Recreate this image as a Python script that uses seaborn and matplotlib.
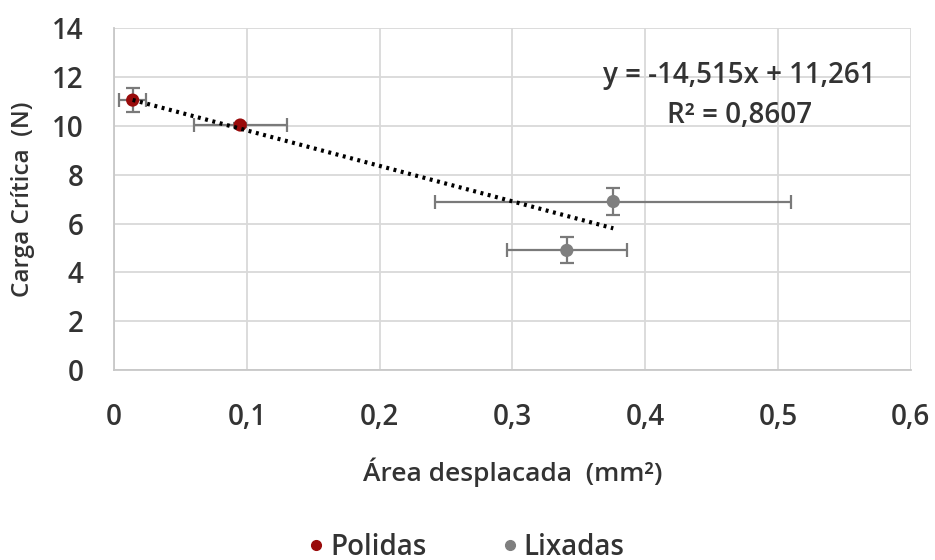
import matplotlib
matplotlib.use("Agg")
import matplotlib.pyplot as plt
from matplotlib.lines import Line2D
import numpy as np
import pandas as pd
import seaborn as sns

# Measured points: displaced area vs. critical load
grupos = ["Polidas", "Polidas", "Lixadas", "Lixadas"]
area = [0.014, 0.095, 0.376, 0.341]
carga = [11.05, 10.03, 6.9, 4.9]
area_err = [0.010, 0.035, 0.134, 0.045]
carga_err = [0.50, 0.10, 0.55, 0.53]

# Linear trend reported for the whole set
incl = -14.515
intercepto = 11.261
r2 = 0.8607

x_ticks = [0, 0.1, 0.2, 0.3, 0.4, 0.5, 0.6]
x_labels = ["0", "0,1", "0,2", "0,3", "0,4", "0,5", "0,6"]
y_ticks = [0, 2, 4, 6, 8, 10, 12, 14]

cores = {"Polidas": "#990b0b", "Lixadas": "#7f7f7f"}
texto = "#333333"
peso = "semibold"

sns.set_theme(style="whitegrid")
plt.rcParams["font.family"] = ["Open Sans", "DejaVu Sans"]
plt.rcParams["font.weight"] = peso
plt.rcParams["axes.labelweight"] = peso

df = pd.DataFrame({"grupo": grupos, "area": area, "carga": carga,
                   "ex": area_err, "ey": carga_err})

fig = plt.figure(figsize=(9.35, 5.6), dpi=100)
ax = fig.add_axes([0.122, 0.339, 0.852, 0.611])

# error bars first so the markers sit on top
ax.errorbar(df["area"], df["carga"], xerr=df["ex"], yerr=df["ey"],
            fmt="none", ecolor="#7a7a7a", elinewidth=1.6, capsize=5,
            capthick=1.6, zorder=2)

sns.scatterplot(data=df, x="area", y="carga", hue="grupo", palette=cores,
                s=90, edgecolor="none", legend=False, ax=ax, zorder=3)

# trend line over the span of the data
xt = np.array([min(area), max(area)])
ax.plot(xt, incl * xt + intercepto, color="black", lw=3.0,
        linestyle=(0, (0.7, 1.1)), dash_capstyle="butt", zorder=4)

ax.text(0.471, 12.07, "y = -14,515x + 11,261", ha="center", va="center",
        fontsize=20, color=texto, fontweight=peso, zorder=5)
ax.text(0.471, 10.44, "R² = 0,8607", ha="center", va="center",
        fontsize=20, color=texto, fontweight=peso, zorder=5)

ax.set_xlim(0, 0.6)
ax.set_ylim(0, 14)
ax.set_xticks(x_ticks)
ax.set_xticklabels(x_labels)
ax.set_yticks(y_ticks)
ax.tick_params(axis="x", labelsize=20, labelcolor=texto, length=0, pad=24)
ax.tick_params(axis="y", labelsize=20, labelcolor=texto, length=0, pad=22)
ax.grid(True, color="#d9d9d9", lw=1.3)
for lado in ["top", "right"]:
    ax.spines[lado].set_visible(False)
for lado in ["left", "bottom"]:
    ax.spines[lado].set_color("#c8c8c8")
    ax.spines[lado].set_linewidth(1.3)

ax.set_xlabel("Área desplacada  (mm²)", fontsize=19, color=texto,
              fontweight=peso, labelpad=18)
ax.set_ylabel("Carga Crítica  (N)", fontsize=17.5, color=texto,
              fontweight=peso, labelpad=12)

handles = [Line2D([], [], marker="o", ls="none", color=cores[g], markersize=7,
                  label=g) for g in ["Polidas", "Lixadas"]]
leg = fig.legend(handles=handles, loc="center", bbox_to_anchor=(0.497, 0.023),
                 ncol=2, frameon=False, fontsize=20, handletextpad=0.1,
                 columnspacing=2.6, labelcolor=texto, handlelength=0.8)
for t in leg.get_texts():
    t.set_fontweight(peso)

fig.savefig("out.png", dpi=100)
